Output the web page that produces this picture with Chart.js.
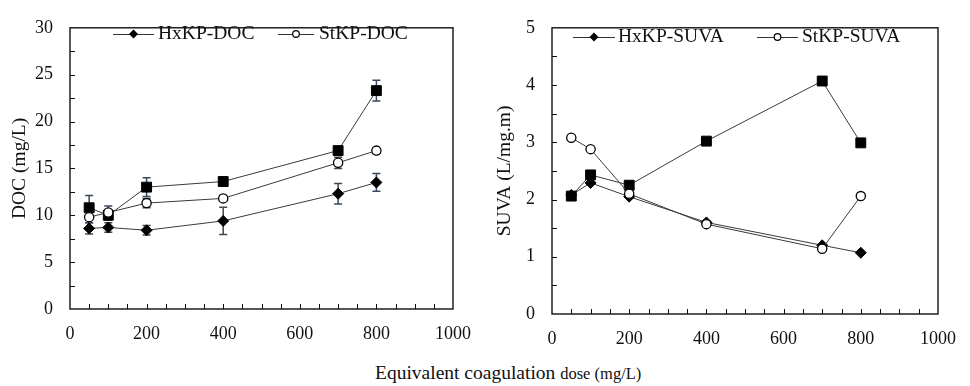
<!DOCTYPE html>
<html>
<head>
<meta charset="utf-8">
<script src="https://cdn.jsdelivr.net/npm/chart.js@4.4.1/dist/chart.umd.min.js"></script>
<style>
  body { margin: 0; background: #fff; }
  #wrap { position: relative; width: 970px; height: 386px; font-family: "Liberation Serif", serif; }
  #docChart { position: absolute; left: 0; top: 0; }
  #suvaChart { position: absolute; left: 485px; top: 0; }
  #xTitle { position: absolute; left: 375px; top: 360px; line-height: 26px; white-space: nowrap; color: #111; font-size: 19.5px; }
  #xTitle span { font-size: 16.5px; }
</style>
</head>
<body>
<div id="wrap">
  <canvas id="docChart" width="485" height="350"></canvas>
  <canvas id="suvaChart" width="485" height="350"></canvas>
  <div id="xTitle">Equivalent coagulation <span>dose (mg/L)</span></div>
</div>
<script>
// coagulant dose (mg/L)
const doses = [50, 100, 200, 400, 700, 800];

// DOC (mg/L)
const docSquare = [10.8, 10.0, 13.0, 13.6, 16.9, 23.3];
const docSquareErr = [1.3, 0.5, 1.0, 0.3, 0.4, 1.1];
const docHx = [8.6, 8.7, 8.4, 9.4, 12.3, 13.5];
const docHxErr = [0.6, 0.5, 0.5, 1.45, 1.1, 0.95];
const docSt = [9.8, 10.3, 11.3, 11.8, 15.6, 16.9];
const docStErr = [0.6, 0.7, 0.5, 0.3, 0.6, 0.3];

// SUVA (L/mg.m)
const suvaSquare = [2.06, 2.43, 2.25, 3.02, 4.07, 2.99];
const suvaHx = [2.08, 2.29, 2.05, 1.60, 1.20, 1.07];
const suvaSt = [3.08, 2.88, 2.10, 1.57, 1.14, 2.06];

const xTicks = [0, 200, 400, 600, 800, 1000];
const docTicks = [0, 5, 10, 15, 20, 25, 30];
const suvaTicks = [0, 1, 2, 3, 4, 5];

Chart.defaults.font.family = '"Liberation Serif", serif';
Chart.defaults.color = '#111';

function pts(values) {
    return values.map((v, i) => ({ x: doses[i], y: v }));
}

function marker(ctx, style, x, y, r) {
    ctx.beginPath();
    if (style === 'rectRot') {
        ctx.moveTo(x, y - r); ctx.lineTo(x + r, y); ctx.lineTo(x, y + r); ctx.lineTo(x - r, y);
        ctx.closePath();
        ctx.fillStyle = '#000';
        ctx.fill();
    } else {
        ctx.arc(x, y, r, 0, Math.PI * 2);
        ctx.fillStyle = '#fff';
        ctx.fill();
        ctx.lineWidth = 1.2;
        ctx.strokeStyle = '#000';
        ctx.stroke();
    }
}

// box around the plot with small inward tick marks
const framePlugin = {
    id: 'frame',
    afterDraw(chart, args, opts) {
        const { ctx, chartArea: a } = chart;
        const x = chart.scales.x, y = chart.scales.y;
        ctx.save();
        ctx.strokeStyle = '#111';
        ctx.lineWidth = 1;
        ctx.beginPath();
        for (let v = x.min + opts.xStep; v < x.max; v += opts.xStep) {
            const px = Math.round(x.getPixelForValue(v)) + 0.5;
            ctx.moveTo(px, a.bottom); ctx.lineTo(px, a.bottom - 5);
        }
        for (let v = y.min + opts.yStep; v < y.max; v += opts.yStep) {
            const py = Math.round(y.getPixelForValue(v)) + 0.5;
            ctx.moveTo(a.left, py); ctx.lineTo(a.left + 5, py);
        }
        ctx.stroke();
        ctx.lineWidth = 1.4;
        ctx.strokeRect(a.left, a.top, a.right - a.left, a.bottom - a.top);
        ctx.restore();
    }
};

// vertical error bars with caps
const errorBarPlugin = {
    id: 'errorBars',
    beforeDatasetsDraw(chart) {
        const { ctx } = chart;
        const y = chart.scales.y;
        ctx.save();
        ctx.strokeStyle = '#3b4859';
        ctx.lineWidth = 1.5;
        chart.data.datasets.forEach((ds, i) => {
            if (!ds.errors) return;
            const meta = chart.getDatasetMeta(i);
            meta.data.forEach((el, j) => {
                const v = ds.data[j].y, e = ds.errors[j];
                const top = y.getPixelForValue(v + e), bot = y.getPixelForValue(v - e);
                ctx.beginPath();
                ctx.moveTo(el.x, top); ctx.lineTo(el.x, bot);
                ctx.moveTo(el.x - 4, top); ctx.lineTo(el.x + 4, top);
                ctx.moveTo(el.x - 4, bot); ctx.lineTo(el.x + 4, bot);
                ctx.stroke();
            });
        });
        ctx.restore();
    }
};

// legend drawn inside the plot area, "—◆— label"
const innerLegendPlugin = {
    id: 'innerLegend',
    afterDraw(chart, args, opts) {
        const { ctx } = chart;
        ctx.save();
        ctx.font = '19.5px "Liberation Serif", serif';
        ctx.textBaseline = 'middle';
        ctx.fillStyle = '#111';
        opts.items.forEach(item => {
            const ds = chart.data.datasets[item.dataset];
            ctx.strokeStyle = '#333';
            ctx.lineWidth = 1;
            ctx.beginPath();
            ctx.moveTo(item.from, opts.y + 0.5); ctx.lineTo(item.to, opts.y + 0.5);
            ctx.stroke();
            marker(ctx, ds.pointStyle, (item.from + item.to) / 2, opts.y, ds.pointStyle === 'rectRot' ? 4.5 : 3.3);
            ctx.fillStyle = '#111';
            ctx.fillText(ds.label, item.text, opts.y);
        });
        ctx.restore();
    }
};

function series(label, values, style, order, errors) {
    const ds = {
        label: label,
        data: pts(values),
        borderColor: '#3a3a3a',
        borderWidth: 1,
        pointStyle: style,
        pointRadius: style === 'rect' ? 7 : (style === 'rectRot' ? 5.5 : 4.6),
        pointBorderWidth: style === 'circle' ? 1.3 : 1,
        pointBackgroundColor: style === 'circle' ? '#fff' : '#000',
        pointBorderColor: '#000',
        order: order,
        tension: 0
    };
    if (errors) ds.errors = errors;
    return ds;
}

function makeChart(id, cfg) {
    return new Chart(document.getElementById(id), {
        type: 'line',
        data: { datasets: cfg.datasets },
        options: {
            responsive: false,
            animation: false,
            layout: { padding: { top: cfg.top, right: cfg.right, left: 0, bottom: 0 } },
            plugins: {
                legend: { display: false },
                tooltip: { enabled: false },
                frame: { xStep: 50, yStep: cfg.minorStep },
                innerLegend: cfg.legend
            },
            scales: {
                x: {
                    type: 'linear', min: 0, max: 1000,
                    afterBuildTicks: s => { s.ticks = xTicks.map(v => ({ value: v })); },
                    afterFit: s => { s.height = cfg.xHeight; },
                    ticks: { font: { size: 18 }, padding: 14, maxRotation: 0, callback: v => String(v) },
                    grid: { display: false, drawTicks: false },
                    border: { display: false }
                },
                y: {
                    min: cfg.yTicks[0], max: cfg.yTicks[cfg.yTicks.length - 1],
                    afterBuildTicks: s => { s.ticks = cfg.yTicks.map(v => ({ value: v })); },
                    afterFit: s => { s.width = cfg.yWidth; },
                    ticks: { font: { size: 18 }, padding: 17 },
                    grid: { display: false, drawTicks: false },
                    border: { display: false },
                    title: { display: true, text: cfg.yTitle, font: { size: 19.5 }, padding: { top: 8, bottom: 0 } }
                }
            }
        },
        plugins: [framePlugin, errorBarPlugin, innerLegendPlugin]
    });
}

makeChart('docChart', {
    datasets: [
        series('HxKP-DOC', docHx, 'rectRot', 3, docHxErr),
        series('StKP-DOC', docSt, 'circle', 1, docStErr),
        series('', docSquare, 'rect', 2, docSquareErr)
    ],
    yTicks: docTicks,
    minorStep: 2.5,
    yTitle: 'DOC (mg/L)',
    top: 16, right: 23, xHeight: 41, yWidth: 70,
    legend: { y: 34, items: [
        { dataset: 0, from: 113, to: 154, text: 158 },
        { dataset: 1, from: 278, to: 314, text: 319 }
    ] }
});

makeChart('suvaChart', {
    datasets: [
        series('HxKP-SUVA', suvaHx, 'rectRot', 3),
        series('StKP-SUVA', suvaSt, 'circle', 1),
        series('', suvaSquare, 'rect', 2)
    ],
    yTicks: suvaTicks,
    minorStep: 0.5,
    yTitle: 'SUVA (L/mg.m)',
    top: 23, right: 20, xHeight: 36, yWidth: 67,
    legend: { y: 37, items: [
        { dataset: 0, from: 88, to: 130, text: 133 },
        { dataset: 1, from: 272, to: 313, text: 317 }
    ] }
});
</script>
</body>
</html>
